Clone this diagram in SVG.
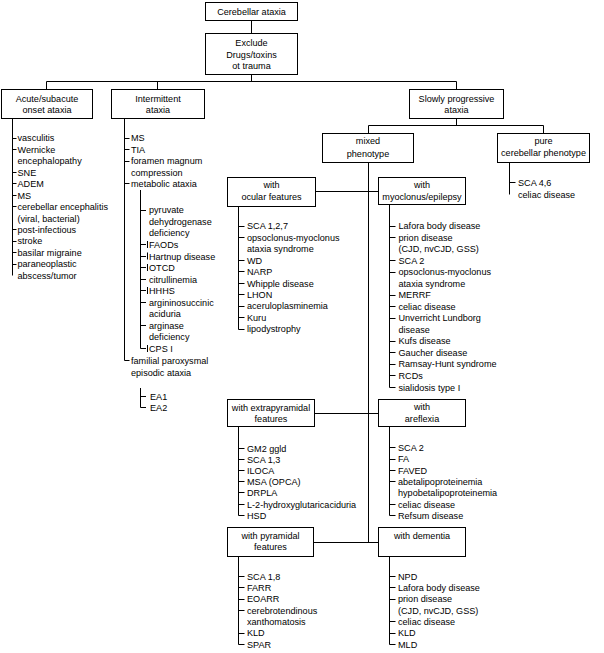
<svg xmlns="http://www.w3.org/2000/svg" width="604" height="653" viewBox="0 0 604 653">
<style>
rect.b{fill:#fff;stroke:#000;stroke-width:1}
path{fill:none;stroke:#000;stroke-width:1}
text{font-family:"Liberation Sans",Arial,sans-serif;font-size:9.1px;fill:#000}
.m{text-anchor:middle}
</style>
<rect width="604" height="653" fill="#fff"/>
<g id="connectors">
<path d="M251.5 20.5V33.5M251.5 74.5V81.5M46.5 81.5H456.5M46.5 81.5V89.5M157.5 81.5V89.5M456.5 81.5V89.5M456.5 118.5V125.5M368.5 125.5H543.5M368.5 125.5V133.5M543.5 125.5V133.5M368.5 162.5V542.5M315.5 191.5H378.5M314.5 413.5H378.5M313.5 542.5H378.5"/>
</g>
<g id="cerebellar">
<rect class="b" x="205.5" y="2.5" width="92" height="18"/>
<text class="m" x="251.5" y="14.6">Cerebellar ataxia</text>
</g>
<g id="exclude">
<rect class="b" x="205.5" y="33.5" width="92" height="41"/>
<text class="m" x="251.5" y="45.6">Exclude</text>
<text class="m" x="251.5" y="57.6">Drugs/toxins</text>
<text class="m" x="251.5" y="68.6">ot trauma</text>
</g>
<g id="acute">
<rect class="b" x="1.5" y="89.5" width="91" height="29"/>
<text class="m" x="47" y="101.6">Acute/subacute</text>
<text class="m" x="47" y="113">onset ataxia</text>
<path d="M12.5 118.5V275.5M12.5 138.5h4M12.5 149.5h4M12.5 172.5h4M12.5 183.5h4M12.5 195.5h4M12.5 206.5h4M12.5 229.5h4M12.5 241.5h4M12.5 252.5h4M12.5 264.5h4"/>
<text x="17.5" y="141.3">vasculitis</text>
<text x="17.5" y="152.8">Wernicke</text>
<text x="17.5" y="164.3">encephalopathy</text>
<text x="17.5" y="175.7">SNE</text>
<text x="17.5" y="187.1">ADEM</text>
<text x="17.5" y="198.6">MS</text>
<text x="17.5" y="210">cerebellar encephalitis</text>
<text x="17.5" y="221.5">(viral, bacterial)</text>
<text x="17.5" y="232.9">post-infectious</text>
<text x="17.5" y="244.3">stroke</text>
<text x="17.5" y="255.8">basilar migraine</text>
<text x="17.5" y="267.3">paraneoplastic</text>
<text x="17.5" y="278.7">abscess/tumor</text>
</g>
<g id="intermittent">
<rect class="b" x="111.5" y="89.5" width="93" height="29"/>
<text class="m" x="158" y="101.6">Intermittent</text>
<text class="m" x="158" y="113">ataxia</text>
<path d="M124.5 118.5V360.5M124.5 138.5h5M124.5 149.5h5M124.5 161.5h5M124.5 183.5h5M124.5 360.5h5"/>
<text x="131" y="141.3">MS</text>
<text x="131" y="152.8">TIA</text>
<text x="131" y="164.3">foramen magnum</text>
<text x="131" y="175.8">compression</text>
<text x="131" y="187.3">metabolic ataxia</text>
<text x="131" y="364">familial paroxysmal</text>
<text x="131" y="375.6">episodic ataxia</text>
<path d="M140.5 190V348.5M140.5 210.5h5.5M140.5 244.5h5.5M140.5 256.5h5.5M140.5 267.5h5.5M140.5 279.5h5.5M140.5 290.5h5.5M140.5 302.5h5.5M140.5 325.5h5.5M140.5 348.5h5.5M147.5 241v7M147.5 252.5v7M147.5 264v7M147.5 287v7M147.5 345v7"/>
<text x="149" y="213.3">pyruvate</text>
<text x="149" y="224.9">dehydrogenase</text>
<text x="149" y="236.4">deficiency</text>
<text x="149" y="248">FAODs</text>
<text x="149" y="259.5">Hartnup disease</text>
<text x="149" y="271.1">OTCD</text>
<text x="149" y="282.6">citrullinemia</text>
<text x="149" y="294.2">HHHS</text>
<text x="149" y="305.7">argininosuccinic</text>
<text x="149" y="317.3">aciduria</text>
<text x="149" y="328.8">arginase</text>
<text x="149" y="340.4">deficiency</text>
<text x="149" y="351.9">CPS I</text>
<path d="M140.5 388V407.5M140.5 396.5h5.5M140.5 407.5h5.5"/>
<text x="150" y="400">EA1</text>
<text x="150" y="411">EA2</text>
</g>
<g id="slowly">
<rect class="b" x="409.5" y="89.5" width="94" height="29"/>
<text class="m" x="456.5" y="101.6">Slowly progressive</text>
<text class="m" x="456.5" y="113">ataxia</text>
</g>
<g id="mixed">
<rect class="b" x="322.5" y="133.5" width="91" height="29"/>
<text class="m" x="368" y="144.3">mixed</text>
<text class="m" x="368" y="156.6">phenotype</text>
</g>
<g id="pure">
<rect class="b" x="497.5" y="133.5" width="92" height="29"/>
<text class="m" x="543.5" y="144.3">pure</text>
<text class="m" x="543.5" y="156">cerebellar phenotype</text>
<path d="M509.5 162.5V194.5M509.5 182.5h6"/>
<text x="518" y="185.8">SCA 4,6</text>
<text x="518" y="197.5">celiac disease</text>
</g>
<g id="ocular">
<rect class="b" x="227.5" y="177.5" width="88" height="29"/>
<text class="m" x="271.5" y="187.6">with</text>
<text class="m" x="271.5" y="200">ocular features</text>
<path d="M238.5 206.5V329.5M238.5 226.5h6M238.5 237.5h6M238.5 260.5h6M238.5 271.5h6M238.5 283.5h6M238.5 294.5h6M238.5 306.5h6M238.5 317.5h6M238.5 329.5h6"/>
<text x="247" y="229.3">SCA 1,2,7</text>
<text x="247" y="240.8">opsoclonus-myoclonus</text>
<text x="247" y="252.3">ataxia syndrome</text>
<text x="247" y="263.7">WD</text>
<text x="247" y="275.1">NARP</text>
<text x="247" y="286.5">Whipple disease</text>
<text x="247" y="297.9">LHON</text>
<text x="247" y="309.3">aceruloplasminemia</text>
<text x="247" y="320.7">Kuru</text>
<text x="247" y="332.3">lipodystrophy</text>
</g>
<g id="myoclonus">
<rect class="b" x="378.5" y="177.5" width="87" height="27"/>
<text class="m" x="422" y="188.3">with</text>
<text class="m" x="422" y="200">myoclonus/epilepsy</text>
<path d="M389.5 204.5V387.5M389.5 226.5h6M389.5 237.5h6M389.5 260.5h6M389.5 272.5h6M389.5 295.5h6M389.5 306.5h6M389.5 318.5h6M389.5 341.5h6M389.5 352.5h6M389.5 364.5h6M389.5 375.5h6M389.5 387.5h6"/>
<text x="398.5" y="229.3">Lafora body disease</text>
<text x="398.5" y="240.8">prion disease</text>
<text x="398.5" y="252.3">(CJD, nvCJD, GSS)</text>
<text x="398.5" y="263.8">SCA 2</text>
<text x="398.5" y="275.3">opsoclonus-myoclonus</text>
<text x="398.5" y="286.8">ataxia syndrome</text>
<text x="398.5" y="298.3">MERRF</text>
<text x="398.5" y="309.8">celiac disease</text>
<text x="398.5" y="321.3">Unverricht Lundborg</text>
<text x="398.5" y="332.8">disease</text>
<text x="398.5" y="344.3">Kufs disease</text>
<text x="398.5" y="355.8">Gaucher disease</text>
<text x="398.5" y="367.3">Ramsay-Hunt syndrome</text>
<text x="398.5" y="378.8">RCDs</text>
<text x="398.5" y="390.6">sialidosis type I</text>
</g>
<g id="extrapyramidal">
<rect class="b" x="227.5" y="399.5" width="87" height="27"/>
<text class="m" x="271" y="410.6">with extrapyramidal</text>
<text class="m" x="271" y="421.6">features</text>
<path d="M238.5 426.5V515.5M238.5 448.5h6M238.5 459.5h6M238.5 470.5h6M238.5 481.5h6M238.5 492.5h6M238.5 504.5h6M238.5 515.5h6"/>
<text x="247" y="451.6">GM2 ggld</text>
<text x="247" y="462.8">SCA 1,3</text>
<text x="247" y="473.9">ILOCA</text>
<text x="247" y="485.1">MSA (OPCA)</text>
<text x="247" y="496.3">DRPLA</text>
<text x="247" y="507.6">L-2-hydroxyglutaricaciduria</text>
<text x="247" y="518.8">HSD</text>
</g>
<g id="areflexia">
<rect class="b" x="378.5" y="399.5" width="87" height="27"/>
<text class="m" x="422" y="410">with</text>
<text class="m" x="422" y="421.6">areflexia</text>
<path d="M389.5 426.5V515.5M389.5 447.5h6M389.5 459.5h6M389.5 470.5h6M389.5 481.5h6M389.5 504.5h6M389.5 515.5h6"/>
<text x="398" y="451">SCA 2</text>
<text x="398" y="462.3">FA</text>
<text x="398" y="473.6">FAVED</text>
<text x="398" y="484.9">abetalipoproteinemia</text>
<text x="398" y="496.2">hypobetalipoproteinemia</text>
<text x="398" y="507.5">celiac disease</text>
<text x="398" y="518.8">Refsum disease</text>
</g>
<g id="pyramidal">
<rect class="b" x="227.5" y="527.5" width="86" height="29"/>
<text class="m" x="270.5" y="539">with pyramidal</text>
<text class="m" x="270.5" y="550">features</text>
<path d="M238.5 556.5V644.5M238.5 576.5h6M238.5 587.5h6M238.5 599.5h6M238.5 610.5h6M238.5 633.5h6M238.5 644.5h6"/>
<text x="247" y="580">SCA 1,8</text>
<text x="247" y="591.2">FARR</text>
<text x="247" y="602.4">EOARR</text>
<text x="247" y="613.7">cerebrotendinous</text>
<text x="247" y="624.9">xanthomatosis</text>
<text x="247" y="636.2">KLD</text>
<text x="247" y="647.8">SPAR</text>
</g>
<g id="dementia">
<rect class="b" x="378.5" y="527.5" width="87" height="29"/>
<text class="m" x="422" y="539">with dementia</text>
<path d="M389.5 556.5V644.5M389.5 576.5h6M389.5 587.5h6M389.5 599.5h6M389.5 621.5h6M389.5 633.5h6M389.5 644.5h6"/>
<text x="398" y="580">NPD</text>
<text x="398" y="591.2">Lafora body disease</text>
<text x="398" y="602.4">prion disease</text>
<text x="398" y="613.7">(CJD, nvCJD, GSS)</text>
<text x="398" y="624.9">celiac disease</text>
<text x="398" y="636.2">KLD</text>
<text x="398" y="647.8">MLD</text>
</g>
</svg>
